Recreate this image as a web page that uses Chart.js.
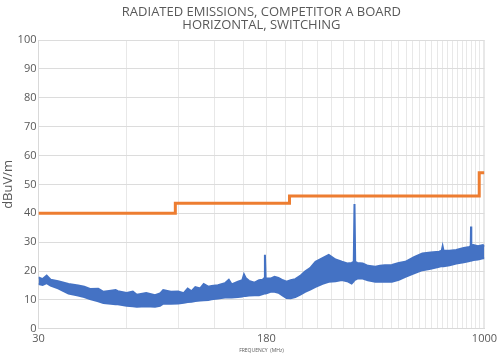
<!DOCTYPE html>
<html>
<head>
<meta charset="utf-8">
<script src="https://cdn.jsdelivr.net/npm/chart.js@4/dist/chart.umd.min.js"></script>
<style>
  html, body { margin: 0; padding: 0; background: #fff; }
  #wrap { width: 500px; height: 362px; }
</style>
</head>
<body>
<div id="wrap"><canvas id="emiChart" width="500" height="362"></canvas></div>
<script>
// frequency points (MHz) for the measured trace
const freqs = [30, 31, 32, 33, 35, 38, 41, 43, 45, 48, 50, 53, 55, 56, 60, 63, 65, 70, 75, 78, 80, 85, 90, 94, 97, 100, 103,
    107, 110, 114, 117, 123, 130, 134, 137, 144, 149, 151, 153, 157, 164, 170, 175, 177, 178, 179, 182, 186, 192, 198, 205, 211,
    218, 226, 235, 244, 254, 265, 280, 294, 310, 326, 340, 352, 358, 360, 362, 368, 384, 400, 424, 440,
    457, 483, 510, 537, 575, 614, 655, 700, 715, 720, 725, 760, 801, 850, 890, 898, 900, 902, 917, 950,
    988, 1000];

// top edge of the noise band (dBuV/m)
const traceHigh = [17.8, 17.2, 18.4, 17.0, 16.5, 15.5, 15.0, 14.6, 13.8, 13.9, 12.8, 13.2, 13.4, 13.0, 12.4, 12.9, 11.8, 12.4, 11.6, 12.2, 13.4, 12.8, 12.9, 12.3, 13.9, 13.0, 14.4,
    14.0, 15.5, 14.6, 14.8, 15.1, 15.8, 17.0, 15.4, 16.3, 16.8, 18.8, 17.6, 16.6, 16.0, 16.8, 17.0, 17.5, 25.6, 17.5, 17.4, 17.4, 18.0, 17.6, 16.8, 16.3,
    16.8, 17.2, 18.3, 19.8, 21.0, 23.2, 24.5, 25.6, 24.0, 23.2, 22.6, 22.8, 23.2, 43.2, 23.2, 22.8, 22.6, 21.8, 21.5, 21.8,
    22.0, 22.1, 22.8, 23.2, 24.8, 26.1, 26.4, 26.7, 27.0, 28.5, 27.0, 27.0, 27.3, 28.0, 28.3, 28.8, 35.4, 28.8, 29.0, 28.6,
    29.0, 28.5];

// bottom edge of the noise band (dBuV/m)
const traceLow = [15.5, 15.2, 15.8, 15.0, 14.0, 12.2, 11.5, 11.0, 10.3, 9.5, 8.9, 8.7, 8.5, 8.5, 8.0, 7.8, 7.6, 7.8, 7.6, 8.0, 8.7, 8.7, 8.8, 9.0, 9.3, 9.4, 9.6,
    9.8, 9.9, 10.0, 10.2, 10.5, 10.8, 10.8, 10.8, 11.0, 11.2, 11.4, 11.4, 11.5, 11.6, 11.6, 12.0, 12.2, 12.2, 12.2, 12.5, 12.8, 12.8, 12.5, 11.5, 10.7,
    10.6, 11.0, 11.8, 12.8, 13.6, 14.5, 15.6, 16.3, 16.5, 16.9, 16.5, 15.7, 16.5, 17.0, 17.0, 17.4, 17.4, 16.8, 16.3, 16.3,
    16.3, 16.3, 17.0, 18.0, 19.2, 20.3, 20.8, 21.5, 21.7, 21.7, 21.7, 22.0, 22.6, 23.0, 23.5, 23.6, 23.6, 23.6, 23.8, 24.0,
    24.4, 24.4];

// limit line (stepped)
const limitFreqs = [30, 88, 88, 216, 216, 960, 960, 1000];
const limitValues = [40, 40, 43.5, 43.5, 46, 46, 54, 54];

// x gridlines every 30 MHz, only some labelled
const gridFreqs = [];
for (let f = 30; f < 1000; f += 30) gridFreqs.push(f);
gridFreqs.push(1000);
const labelledFreqs = [30, 180, 1000];

const toPoints = (xs, ys) => xs.map((x, i) => ({ x: x, y: ys[i] }));

const blue = '#4472C4';
const orange = '#ED7D31';
const grey = '#595959';

const ctx = document.getElementById('emiChart').getContext('2d');

let chart = new Chart(ctx, {
    type: 'line',
    data: {
        datasets: [
            { label: 'Limit', data: toPoints(limitFreqs, limitValues), borderColor: orange, borderWidth: 3, pointRadius: 0, fill: false },
            { label: 'High', data: toPoints(freqs, traceHigh), borderColor: blue, backgroundColor: blue, borderWidth: 2, pointRadius: 0, fill: '+1' },
            { label: 'Low', data: toPoints(freqs, traceLow), borderColor: blue, borderWidth: 2, pointRadius: 0, fill: false }
        ]
    },
    options: {
        responsive: false,
        animation: false,
        layout: { padding: { left: 0, right: 10, top: 2, bottom: 8 } },
        plugins: {
            legend: { display: false },
            tooltip: { enabled: false },
            title: {
                display: true,
                fullSize: false,
                text: ['RADIATED EMISSIONS, COMPETITOR A BOARD', 'HORIZONTAL, SWITCHING'],
                color: grey,
                font: { family: 'Open Sans', size: 13, weight: 'normal', lineHeight: 1.0 },
                padding: { top: 4, bottom: 8 }
            }
        },
        scales: {
            x: {
                type: 'logarithmic',
                min: 30,
                max: 1000,
                afterBuildTicks: (axis) => { axis.ticks = gridFreqs.map(v => ({ value: v })); },
                ticks: {
                    autoSkip: false,
                    maxRotation: 0,
                    color: grey,
                    font: { family: 'Open Sans', size: 11 },
                    padding: 3,
                    callback: (value) => labelledFreqs.includes(value) ? String(value) : ''
                },
                grid: { color: '#e8e8e8', drawTicks: false },
                border: { color: '#d9d9d9' },
                title: { display: true, text: 'FREQUENCY  (MHz)', color: grey, font: { family: 'Open Sans', size: 5 }, padding: { top: 0, bottom: 0 } }
            },
            y: {
                min: 0,
                max: 100,
                ticks: { stepSize: 10, color: grey, font: { family: 'Open Sans', size: 11 }, padding: 2 },
                grid: { color: '#dcdcdc', drawTicks: false },
                border: { color: '#d9d9d9' },
                title: { display: true, text: 'dBuV/m', color: grey, font: { family: 'Open Sans', size: 13 }, padding: { top: 0, bottom: 0 } }
            }
        }
    }
});
</script>
</body>
</html>
